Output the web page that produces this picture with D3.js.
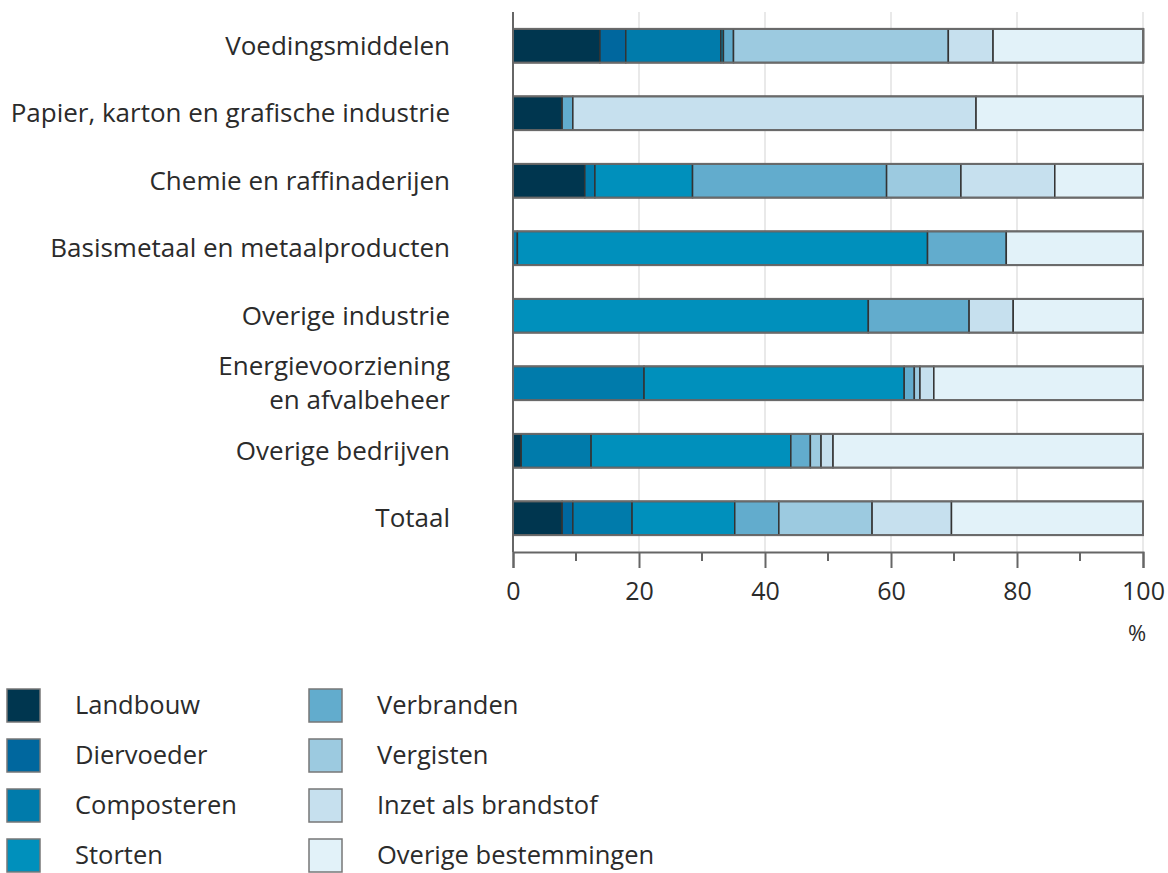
<!doctype html>
<html lang="en">
<head>
  <meta charset="utf-8" />
  <title>Bestemming reststromen per sector</title>
  <script src="https://d3js.org/d3.v7.min.js"></script>
  <style>
    body { margin: 0; background: #fff; }
    text { font-family: "Open Sans", "Noto Sans", sans-serif; fill: #2b2b2b; }
  </style>
</head>
<body>
<script type="text/javascript">

  // categories (top to bottom)
  var sectors = [
    "Voedingsmiddelen",
    "Papier, karton en grafische industrie",
    "Chemie en raffinaderijen",
    "Basismetaal en metaalproducten",
    "Overige industrie",
    "Energievoorziening|en afvalbeheer",
    "Overige bedrijven",
    "Totaal"
  ];

  var series = ["Landbouw", "Diervoeder", "Composteren", "Storten",
    "Verbranden", "Vergisten", "Inzet als brandstof", "Overige bestemmingen"];

  var colors = ["#00364f", "#00679e", "#007bab", "#0090bc",
    "#62accd", "#9ccae0", "#c6e0ee", "#e2f2f9"];

  // percentages per series, same order as sectors
  var landbouw    = [13.8, 7.8, 11.4, 0,    0,    0,    1.3,  7.8];
  var diervoeder  = [4.1,  0,   0,    0,    0,    0,    0,    1.7];
  var composteren = [15.1, 0,   1.6,  0.7,  0,    20.8, 11.1, 9.4];
  var storten     = [0.4,  0,   15.5, 65.1, 56.4, 41.3, 31.7, 16.3];
  var verbranden  = [1.6,  1.7, 30.8, 12.5, 16.0, 1.6,  3.1,  7.0];
  var vergisten   = [34.1, 0,   11.8, 0,    0,    0.9,  1.7,  14.8];
  var inzet       = [7.1,  64.0, 14.9, 0,   7.0,  2.2,  1.9,  12.6];
  var overige     = [23.9, 26.5, 14.0, 21.7, 20.6, 33.2, 49.2, 30.4];

  var xTicks = [0, 20, 40, 60, 80, 100];
  var xMinor = [10, 30, 50, 70, 90];

  var values = [landbouw, diervoeder, composteren, storten, verbranden, vergisten, inzet, overige];

  var width = 1168, height = 873;

  var svg = d3.select("body").append("svg")
    .attr("width", width)
    .attr("height", height);

  var x = d3.scaleLinear()
    .domain([0, 100])
    .range([513, 1143]);

  var y = d3.scaleBand()
    .domain(sectors)
    .range([12, 552])
    .paddingInner(0.5)
    .paddingOuter(0.25);

  // build rows for d3.stack
  var rows = sectors.map(function(s, i) {
    var r = { sector: s };
    series.forEach(function(k, j) { r[k] = values[j][i]; });
    return r;
  });

  var stacked = d3.stack().keys(series)(rows);

  // grid lines
  svg.append("g")
    .selectAll("line")
    .data(xTicks.slice(1))
    .enter().append("line")
      .attr("x1", function(d) { return x(d); })
      .attr("x2", function(d) { return x(d); })
      .attr("y1", 12)
      .attr("y2", 552)
      .attr("stroke", "#e2e2e2")
      .attr("stroke-width", 1.5);

  // bars
  svg.append("g")
    .selectAll("g")
    .data(stacked)
    .enter().append("g")
      .attr("fill", function(d, i) { return colors[i]; })
    .selectAll("rect")
    .data(function(d) { return d.filter(function(p) { return p[1] - p[0] > 0; }); })
    .enter().append("rect")
      .attr("x", function(d) { return x(d[0]); })
      .attr("width", function(d) { return x(d[1]) - x(d[0]); })
      .attr("y", function(d) { return y(d.data.sector); })
      .attr("height", y.bandwidth())
      .attr("stroke", "#333")
      .attr("stroke-width", 1.5);

  // outer border of each bar
  svg.append("g")
    .selectAll("rect")
    .data(sectors)
    .enter().append("rect")
      .attr("x", x(0))
      .attr("width", x(100) - x(0))
      .attr("y", function(d) { return y(d); })
      .attr("height", y.bandwidth())
      .attr("fill", "none")
      .attr("stroke", "#6a6a6a")
      .attr("stroke-width", 2);

  // left axis line
  svg.append("line")
    .attr("x1", x(0)).attr("x2", x(0))
    .attr("y1", 12).attr("y2", 552)
    .attr("stroke", "#666")
    .attr("stroke-width", 2);

  // bottom axis
  var xAxis = d3.axisBottom(x)
    .tickValues(xTicks)
    .tickSize(16)
    .tickPadding(14)
    .tickFormat(d3.format("d"));

  var ax = svg.append("g")
    .attr("transform", "translate(0,552)")
    .call(xAxis);

  ax.select(".domain").attr("stroke", "#666").attr("stroke-width", 2);
  ax.selectAll(".tick line").attr("stroke", "#666").attr("stroke-width", 2);
  ax.selectAll(".tick text")
    .attr("font-size", 25)
    .attr("fill", "#2b2b2b")
    .style("font-family", "Open Sans, sans-serif");

  ax.selectAll(".minor")
    .data(xMinor)
    .enter().append("line")
      .attr("class", "minor")
      .attr("x1", function(d) { return x(d); })
      .attr("x2", function(d) { return x(d); })
      .attr("y1", 0)
      .attr("y2", 9)
      .attr("stroke", "#666")
      .attr("stroke-width", 2);

  svg.append("text")
    .attr("x", 1137)
    .attr("y", 641)
    .attr("text-anchor", "middle")
    .attr("font-size", 22)
    .text("%");

  // category labels
  var labels = svg.append("g")
    .selectAll("text")
    .data(sectors)
    .enter().append("text")
      .attr("text-anchor", "end")
      .attr("font-size", 26)
      .attr("y", function(d) { return y(d) + y.bandwidth() / 2; });

  labels.each(function(d) {
    var parts = d.split("|");
    var t = d3.select(this);
    parts.forEach(function(p, i) {
      t.append("tspan")
        .attr("x", 450)
        .attr("dy", i === 0 ? ((0.35 - (parts.length - 1) * 0.65) + "em") : "1.3em")
        .text(p);
    });
  });

  // legend
  var legend = svg.append("g")
    .selectAll("g")
    .data(series)
    .enter().append("g")
      .attr("transform", function(d, i) {
        var col = Math.floor(i / 4), row = i % 4;
        return "translate(" + (7 + col * 302) + "," + (689 + row * 50) + ")";
      });

  legend.append("rect")
    .attr("width", 33)
    .attr("height", 33)
    .attr("fill", function(d, i) { return colors[i]; })
    .attr("stroke", "#777")
    .attr("stroke-width", 1.5);

  legend.append("text")
    .attr("x", 68)
    .attr("y", 16)
    .attr("dy", "0.35em")
    .attr("font-size", 25.5)
    .text(function(d) { return d; });

</script>
</body>
</html>
